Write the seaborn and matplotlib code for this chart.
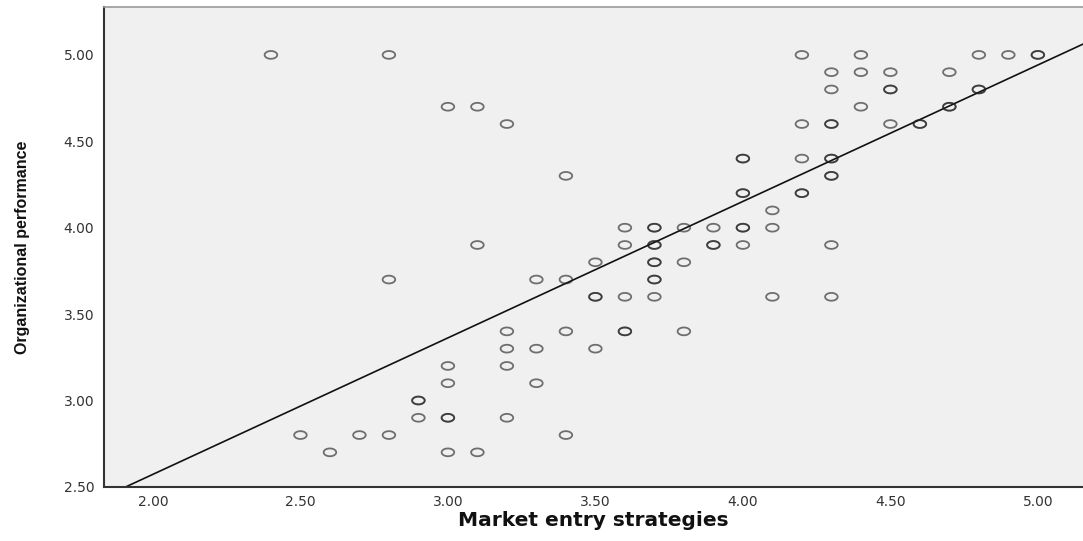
import numpy as np
import pandas as pd
import matplotlib
matplotlib.use("Agg")
import matplotlib.pyplot as plt
from matplotlib.path import Path
import seaborn as sns

# market entry strategies (x) and organizational performance (y), one pair per respondent
market_entry = [
    2.4, 2.8, 4.2, 4.4, 4.8, 4.9, 5.0, 5.0,
    4.3, 4.4, 4.5, 4.7,
    4.3, 4.5, 4.5, 4.8, 4.8,
    3.0, 3.1, 4.4, 4.7, 4.7,
    3.2, 4.2, 4.3, 4.3, 4.5, 4.6, 4.6,
    4.0, 4.0, 4.2, 4.3, 4.3,
    3.4, 4.3, 4.3,
    4.0, 4.0, 4.2, 4.2,
    4.1,
    3.6, 3.7, 3.7, 3.8, 3.9, 4.0, 4.0, 4.1,
    3.1, 3.6, 3.7, 3.7, 3.9, 3.9, 4.0, 4.3,
    3.5, 3.7, 3.7, 3.8,
    2.8, 3.3, 3.4, 3.7, 3.7,
    3.5, 3.5, 3.6, 3.7, 4.1, 4.3,
    3.2, 3.4, 3.6, 3.6, 3.8,
    3.2, 3.3, 3.5,
    3.0, 3.2,
    3.0, 3.3,
    2.9, 2.9,
    2.9, 3.0, 3.0, 3.2,
    2.5, 2.7, 2.8, 3.4,
    2.6, 3.0, 3.1,
]
org_performance = [
    5.0, 5.0, 5.0, 5.0, 5.0, 5.0, 5.0, 5.0,
    4.9, 4.9, 4.9, 4.9,
    4.8, 4.8, 4.8, 4.8, 4.8,
    4.7, 4.7, 4.7, 4.7, 4.7,
    4.6, 4.6, 4.6, 4.6, 4.6, 4.6, 4.6,
    4.4, 4.4, 4.4, 4.4, 4.4,
    4.3, 4.3, 4.3,
    4.2, 4.2, 4.2, 4.2,
    4.1,
    4.0, 4.0, 4.0, 4.0, 4.0, 4.0, 4.0, 4.0,
    3.9, 3.9, 3.9, 3.9, 3.9, 3.9, 3.9, 3.9,
    3.8, 3.8, 3.8, 3.8,
    3.7, 3.7, 3.7, 3.7, 3.7,
    3.6, 3.6, 3.6, 3.6, 3.6, 3.6,
    3.4, 3.4, 3.4, 3.4, 3.4,
    3.3, 3.3, 3.3,
    3.2, 3.2,
    3.1, 3.1,
    3.0, 3.0,
    2.9, 2.9, 2.9, 2.9,
    2.8, 2.8, 2.8, 2.8,
    2.7, 2.7, 2.7,
]
x_ticks = [2.0, 2.5, 3.0, 3.5, 4.0, 4.5, 5.0]
y_ticks = [2.5, 3.0, 3.5, 4.0, 4.5, 5.0]

df = pd.DataFrame({"Market entry strategies": market_entry,
                   "Organizational performance": org_performance})

sns.set_style("white")

# open circles look a bit squashed in the original, so use an elliptical marker
t = np.linspace(0, 2 * np.pi, 60)
ellipse = Path(np.column_stack([np.cos(t), 0.62 * np.sin(t)]), closed=True)

fig = plt.figure(figsize=(10.83, 5.41), dpi=100)
ax = fig.add_axes([0.096, 0.1, 0.904, 0.887])
ax.set_facecolor("#f0f0f0")

ax.set_xlim(1.834, 5.153)
ax.set_ylim(2.5, 5.277)

sns.scatterplot(data=df, x="Market entry strategies", y="Organizational performance",
                ax=ax, marker=ellipse, s=82, facecolor="none",
                edgecolor=(0.12, 0.12, 0.12, 0.62), linewidth=1.3, zorder=3)
sns.regplot(data=df, x="Market entry strategies", y="Organizational performance",
            ax=ax, scatter=False, ci=None, truncate=False,
            line_kws={"color": "#111111", "lw": 1.2, "zorder": 2})

ax.set_xlim(1.834, 5.153)
ax.set_ylim(2.5, 5.277)
ax.set_xticks(x_ticks)
ax.set_yticks(y_ticks)
ax.set_xticklabels([f"{v:.2f}" for v in x_ticks])
ax.set_yticklabels([f"{v:.2f}" for v in y_ticks])
ax.tick_params(axis="both", direction="out", length=6, width=1.3, color="#222222",
               labelsize=10, labelcolor="#333333", pad=1)
ax.tick_params(axis="x", pad=0)

for side in ["left", "bottom"]:
    ax.spines[side].set_color("#333333")
    ax.spines[side].set_linewidth(1.5)
ax.spines["top"].set_color("#999999")
ax.spines["top"].set_linewidth(1.2)
ax.spines["right"].set_visible(False)

ax.set_xlabel("Market entry strategies", fontsize=14.5, fontweight="bold",
              family="DejaVu Sans", color="#111111")
ax.set_ylabel("Organizational performance", fontsize=11.5, fontweight="bold",
              family="Liberation Sans", color="#111111")
ax.xaxis.set_label_coords(0.5, -0.05)
ax.yaxis.set_label_coords(-0.083, 0.5)
ax.yaxis.label.set_va("center")
ax.xaxis.label.set_va("top")

plt.savefig("out.png", dpi=100)
plt.close()
